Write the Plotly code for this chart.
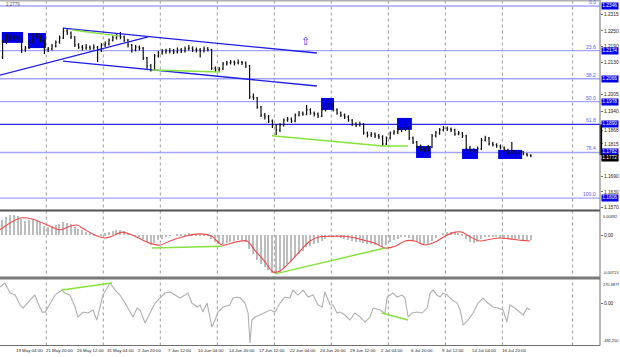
import plotly.graph_objects as go

W, H = 620, 357

# ---------------- price data (8-hour bars, EURUSD-like) ----------------
open_first = 1.2150
close = [1.2207,1.2227,1.2223,1.2227,1.2219,1.2177,1.2184,1.2207,1.2230,1.2230,
         1.2215,1.2177,1.2181,1.2192,1.2207,1.2223,1.2250,1.2242,1.2227,1.2196,
         1.2188,1.2184,1.2188,1.2184,1.2188,1.2177,1.2196,1.2200,1.2215,1.2223,
         1.2230,1.2227,1.2215,1.2196,1.2177,1.2188,1.2184,1.2146,1.2115,1.2100,
         1.2154,1.2165,1.2169,1.2173,1.2173,1.2169,1.2177,1.2173,1.2181,1.2184,
         1.2177,1.2177,1.2173,1.2181,1.2177,1.2107,1.2100,1.2104,1.2123,1.2127,
         1.2130,1.2127,1.2130,1.2127,1.2115,1.1996,1.1992,1.1957,1.1926,1.1919,
         1.1903,1.1888,1.1869,1.1888,1.1907,1.1911,1.1903,1.1926,1.1934,1.1930,
         1.1946,1.1934,1.1930,1.1923,1.1946,1.1961,1.1969,1.1946,1.1934,1.1926,
         1.1919,1.1907,1.1892,1.1888,1.1892,1.1857,1.1849,1.1853,1.1846,1.1842,
         1.1815,1.1838,1.1857,1.1861,1.1869,1.1872,1.1876,1.1838,1.1822,1.1807,
         1.1796,1.1792,1.1803,1.1846,1.1857,1.1869,1.1876,1.1872,1.1869,1.1853,
         1.1857,1.1846,1.1800,1.1792,1.1788,1.1796,1.1830,1.1838,1.1815,1.1811,
         1.1807,1.1800,1.1792,1.1780,1.1788,1.1780,1.1784,1.1776,1.1772,1.1769]
high = [1.2215,1.2238,1.2236,1.2234,1.2232,1.2223,1.2192,1.2215,1.2240,1.2242,
        1.2236,1.2219,1.2188,1.2200,1.2213,1.2232,1.2262,1.2257,1.2248,1.2230,
        1.2203,1.2196,1.2200,1.2194,1.2199,1.2192,1.2203,1.2209,1.2221,1.2232,
        1.2240,1.2246,1.2232,1.2219,1.2200,1.2196,1.2194,1.2188,1.2150,1.2123,
        1.2161,1.2173,1.2180,1.2181,1.2184,1.2180,1.2186,1.2184,1.2190,1.2196,
        1.2190,1.2186,1.2184,1.2190,1.2188,1.2181,1.2113,1.2111,1.2130,1.2134,
        1.2138,1.2136,1.2140,1.2134,1.2132,1.2119,1.2009,1.1996,1.1961,1.1934,
        1.1926,1.1909,1.1892,1.1896,1.1913,1.1919,1.1917,1.1932,1.1942,1.1940,
        1.1965,1.1952,1.1940,1.1936,1.1952,1.1969,1.1984,1.1973,1.1952,1.1940,
        1.1932,1.1925,1.1911,1.1898,1.1900,1.1896,1.1863,1.1861,1.1859,1.1853,
        1.1848,1.1844,1.1863,1.1869,1.1876,1.1880,1.1886,1.1882,1.1844,1.1826,
        1.1813,1.1803,1.1811,1.1853,1.1865,1.1876,1.1884,1.1882,1.1878,1.1873,
        1.1865,1.1861,1.1850,1.1807,1.1798,1.1805,1.1838,1.1846,1.1842,1.1822,
        1.1818,1.1813,1.1805,1.1796,1.1822,1.1792,1.1790,1.1788,1.1780,1.1775]
low = [1.2142,1.2200,1.2212,1.2215,1.2208,1.2165,1.2170,1.2180,1.2203,1.2222,
       1.2206,1.2161,1.2169,1.2175,1.2186,1.2201,1.2219,1.2234,1.2219,1.2188,
       1.2180,1.2175,1.2178,1.2177,1.2178,1.2130,1.2169,1.2188,1.2194,1.2209,
       1.2217,1.2218,1.2207,1.2186,1.2167,1.2171,1.2175,1.2138,1.2104,1.2094,
       1.2096,1.2148,1.2158,1.2162,1.2163,1.2161,1.2163,1.2165,1.2167,1.2175,
       1.2169,1.2167,1.2148,1.2167,1.2171,1.2100,1.2092,1.2094,1.2100,1.2117,
       1.2121,1.2117,1.2121,1.2119,1.2107,1.1988,1.1984,1.1950,1.1919,1.1909,
       1.1896,1.1876,1.1849,1.1861,1.1882,1.1900,1.1896,1.1898,1.1921,1.1923,
       1.1925,1.1927,1.1921,1.1915,1.1919,1.1940,1.1955,1.1940,1.1927,1.1919,
       1.1911,1.1900,1.1884,1.1880,1.1882,1.1850,1.1840,1.1842,1.1838,1.1834,
       1.1807,1.1811,1.1832,1.1850,1.1853,1.1861,1.1865,1.1830,1.1815,1.1800,
       1.1788,1.1784,1.1786,1.1799,1.1840,1.1850,1.1863,1.1865,1.1861,1.1846,
       1.1848,1.1838,1.1792,1.1784,1.1780,1.1782,1.1792,1.1824,1.1809,1.1805,
       1.1800,1.1794,1.1786,1.1774,1.1776,1.1773,1.1776,1.1771,1.1767,1.1764]
opens = [open_first] + close[:-1]
idx = list(range(len(close)))

# ---------------- MACD ----------------
macd_hist = [0.0025,0.0031,0.0034,0.0034,0.0033,0.0027,0.0024,0.0026,0.0027,0.0026,
             0.0022,0.0016,0.0014,0.0015,0.0017,0.0019,0.0022,0.0021,0.0019,0.0014,
             0.0011,0.0008,0.0006,0.0004,0.0002,0.0000,0.0001,0.0003,0.0005,0.0007,
             0.0009,0.0009,0.0007,0.0004,0.0000,-0.0001,-0.0002,-0.0006,-0.0012,-0.0017,
             -0.0013,-0.0009,-0.0006,-0.0003,-0.0001,0.0000,0.0001,0.0002,0.0002,0.0003,
             0.0002,0.0002,0.0001,0.0001,0.0001,-0.0006,-0.0012,-0.0015,-0.0015,-0.0013,
             -0.0011,-0.0010,-0.0009,-0.0009,-0.0011,-0.0024,-0.0033,-0.0042,-0.0050,-0.0055,
             -0.0060,-0.0064,-0.0066,-0.0062,-0.0056,-0.0050,-0.0045,-0.0038,-0.0032,-0.0027,
             -0.0021,-0.0018,-0.0016,-0.0014,-0.0010,-0.0006,-0.0003,-0.0003,-0.0004,-0.0005,
             -0.0006,-0.0008,-0.0010,-0.0011,-0.0011,-0.0014,-0.0016,-0.0016,-0.0017,-0.0017,
             -0.0020,-0.0017,-0.0012,-0.0009,-0.0006,-0.0003,-0.0002,-0.0005,-0.0008,-0.0011,
             -0.0014,-0.0016,-0.0015,-0.0010,-0.0005,0.0000,0.0004,0.0006,0.0006,0.0005,
             0.0004,0.0001,-0.0006,-0.0011,-0.0013,-0.0012,-0.0007,-0.0004,-0.0004,-0.0004,
             -0.0004,-0.0005,-0.0006,-0.0007,-0.0006,-0.0007,-0.0007,-0.0008,-0.0008,-0.0009]
signal_idx = [-0.7,4.6,8.0,12.5,15.1,17.7,19.6,21.7,24.3,26.9,28.8,31.4,34.8,38.8,41.4,44.1,
              48.0,51.9,55.1,57.7,61.2,64.3,66.4,69.1,71.2,73.0,75.6,78.3,80.9,83.5,87.0,
              90.1,94.1,98.0,100.6,103.3,105.9,108.5,111.2,113.8,116.4,119.1,120.9,123.0,
              125.6,128.3,130.9,134.1,136.7,138.8]
signal_val = [0.0009,0.0029,0.0027,0.0015,0.0009,0.0015,0.0017,0.0009,0.0000,-0.0005,
              -0.0002,0.0005,-0.0002,-0.0014,-0.0017,-0.0010,-0.0002,0.0002,-0.0002,-0.0017,
              -0.0012,-0.0010,-0.0026,-0.0046,-0.0063,-0.0061,-0.0046,-0.0027,-0.0010,-0.0003,
              -0.0002,-0.0002,-0.0007,-0.0014,-0.0022,-0.0019,-0.0010,-0.0010,-0.0017,-0.0012,
              -0.0002,0.0005,0.0005,-0.0003,-0.0010,-0.0007,-0.0005,-0.0007,-0.0009,-0.0010]
macd_top, macd_bottom = 0.00392, -0.00713

# ---------------- CCI ----------------
cci_idx = [-0.7,0.6,2.0,3.3,4.6,5.4,7.2,8.5,9.3,10.4,11.2,12.5,13.8,15.6,16.4,17.7,19.1,
           19.8,21.2,22.5,23.8,24.8,25.6,26.4,27.5,28.3,29.6,30.9,32.2,33.5,34.3,35.4,
           36.2,37.5,38.8,40.1,41.4,42.7,44.1,45.4,46.7,48.0,48.8,49.8,51.2,52.0,52.7,
           53.8,55.1,55.9,56.7,58.0,59.8,60.6,61.7,62.5,63.8,64.6,65.1,65.6,66.4,67.7,
           69.1,70.4,71.7,73.0,74.3,75.6,76.4,77.7,79.1,80.4,81.7,83.0,84.1,84.8,86.2,
           87.0,88.0,88.8,90.1,91.4,92.7,94.1,95.4,96.7,97.5,99.3,100.1,100.6,101.2,
           102.0,102.7,103.8,105.1,105.9,106.7,107.7,109.1,110.4,111.7,112.5,113.3,
           114.3,115.1,115.9,117.0,118.3,119.6,120.4,121.2,122.5,123.8,125.1,126.4,
           127.7,129.1,130.4,131.7,132.7,133.5,134.8,136.2,137.0,138.0,138.8]
cci_val = [188,235,117,94,-23,-59,35,94,0,-106,-106,0,94,152,117,94,-47,
           -164,-106,-117,-82,-199,-47,94,176,235,152,94,0,-106,-164,-59,
           -82,-235,-117,0,59,117,129,94,59,94,117,0,-47,-23,-106,
           0,-282,-199,-106,-47,-23,59,70,59,0,-117,-469,-199,-164,-141,
           -106,-82,-106,0,70,59,152,94,152,70,94,-23,-47,129,-23,
           -23,-117,-106,-141,-199,-117,-164,-223,-164,-59,-82,-106,-117,70,
           94,117,70,94,59,-164,-117,-106,-117,-59,117,152,
           94,70,117,94,35,0,-82,-258,-199,-117,0,59,
           0,-47,-59,-82,-223,-23,-59,-106,-141,-59,-82]
cci_top, cci_bottom = 270.3877, -492.25

# ---------------- drawn objects (bar index, value) ----------------
fib_levels = [0.0, 23.6, 38.2, 50.0, 61.8, 76.4, 100.0]
fib_prices = [1.2346, 1.2174, 1.2066, 1.1978, 1.1890, 1.1782, 1.1606]
last_price = 1.1772
channel_upper = ([15.9, 82.7], [1.2261, 1.2165])
channel_lower = ([15.9, 82.7], [1.2134, 1.2038])
rising_line = ([-0.7, 38.3], [1.2080, 1.2227])
green_price = [([18.3, 30.9], [1.2254, 1.2230]),
               ([39.3, 57.2], [1.2100, 1.2092]),
               ([70.9, 100.1, 106.7], [1.1846, 1.1807, 1.1807])]
green_macd = [([39.3, 57.7], [-0.0022, -0.0019]),
              ([71.7, 100.6], [-0.0066, -0.0022])]
green_cci = [([15.6, 28.8], [152, 235]),
             ([99.8, 106.7], [-117, -199])]
boxes = [(-0.2, 5.4, 1.2204, 1.2246), (6.7, 11.4, 1.2184, 1.2242),
         (83.8, 87.2, 1.1946, 1.1992), (103.8, 107.7, 1.1869, 1.1915),
         (108.8, 112.7, 1.1761, 1.1807), (120.9, 125.1, 1.1757, 1.1796),
         (130.4, 136.7, 1.1757, 1.1792)]
arrow_pos = (79.6, 1.2211)

price_ticks = [1.2315, 1.2250, 1.2190, 1.2130, 1.2005, 1.1940, 1.1868,
               1.1815, 1.1755, 1.1690, 1.1630, 1.1570]
time_labels = ["19 May 04:00", "21 May 20:00", "26 May 12:00", "31 May 04:00",
               "2 Jun 20:00", "7 Jun 12:00", "10 Jun 04:00", "14 Jun 20:00",
               "17 Jun 12:00", "22 Jun 04:00", "24 Jun 20:00", "29 Jun 12:00",
               "2 Jul 04:00", "6 Jul 20:00", "9 Jul 12:00", "14 Jul 04:00",
               "16 Jul 20:00"]
time_label_idx = [3 + 8 * k for k in range(len(time_labels))]
week_grid_idx = [11.5, 26.5, 41.5, 56.5, 71.5, 86.5, 101.5, 116.5, 131.5, 150.0]

# ---------------- layout helpers ----------------
def py(pix):  # pixel row -> paper fraction
    return 1 - pix / H

FONT = "Liberation Sans"
BLUE = "#1e1ee6"
FIBC = "#a4a4ff"
GREEN = "#86e33c"

fig = go.Figure()

fig.add_trace(go.Ohlc(
    x=idx, open=opens, high=high, low=low, close=close,
    increasing=dict(line=dict(color="#111111", width=1.2)),
    decreasing=dict(line=dict(color="#111111", width=1.2)),
    tickwidth=0.25, xaxis="x", yaxis="y", hoverinfo="skip"))

for xs, ys in [channel_upper, channel_lower, rising_line]:
    fig.add_trace(go.Scatter(x=xs, y=ys, mode="lines", line=dict(color=BLUE, width=1.3),
                             xaxis="x", yaxis="y", hoverinfo="skip"))
for xs, ys in green_price:
    fig.add_trace(go.Scatter(x=xs, y=ys, mode="lines", line=dict(color=GREEN, width=1.5),
                             xaxis="x", yaxis="y", hoverinfo="skip"))

fig.add_trace(go.Bar(x=idx, y=macd_hist, width=0.4, marker=dict(color="#bdbdbd", line=dict(width=0)),
                     xaxis="x2", yaxis="y2", hoverinfo="skip"))
fig.add_trace(go.Scatter(x=signal_idx, y=signal_val, mode="lines",
                         line=dict(color="#f04848", width=1.1, shape="spline", smoothing=0.8),
                         xaxis="x2", yaxis="y2", hoverinfo="skip"))
for xs, ys in green_macd:
    fig.add_trace(go.Scatter(x=xs, y=ys, mode="lines", line=dict(color=GREEN, width=1.5),
                             xaxis="x2", yaxis="y2", hoverinfo="skip"))

fig.add_trace(go.Scatter(x=cci_idx, y=cci_val, mode="lines", line=dict(color="#b0b0b0", width=1.1),
                         xaxis="x3", yaxis="y3", hoverinfo="skip"))
for xs, ys in green_cci:
    fig.add_trace(go.Scatter(x=xs, y=ys, mode="lines", line=dict(color=GREEN, width=1.5),
                             xaxis="x3", yaxis="y3", hoverinfo="skip"))

shapes = []
annotations = []

for g in week_grid_idx:
    shapes.append(dict(type="line", xref="x", yref="paper", x0=g, x1=g, y0=py(345.5), y1=1,
                       line=dict(color="#9a9a9a", width=1, dash="dot"), layer="below"))
for x0, x1, y0, y1 in boxes:
    shapes.append(dict(type="rect", xref="x", yref="y", x0=x0, x1=x1, y0=y0, y1=y1,
                       fillcolor="#0000e8", line=dict(width=0), layer="below"))
for lvl, p in zip(fib_levels, fib_prices):
    col = "#2a2ae0" if lvl == 61.8 else FIBC
    shapes.append(dict(type="line", xref="paper", yref="y", x0=0, x1=1, y0=p, y1=p,
                       line=dict(color=col, width=1.3), layer="below"))
    annotations.append(dict(xref="paper", yref="y", x=0.997, y=p, text=f"{lvl:.1f}",
                            showarrow=False, xanchor="right", yanchor="bottom", yshift=-1,
                            font=dict(family=FONT, size=5, color="#5a5aff")))
    annotations.append(dict(xref="paper", yref="y", x=1.0, y=p, text=f"{p:.4f}",
                            showarrow=False, xanchor="left", yanchor="middle", xshift=1,
                            bgcolor="#0000e6", borderpad=0.3,
                            font=dict(family=FONT, size=4.8, color="white")))
annotations.append(dict(xref="paper", yref="y", x=1.0, y=last_price, text=f"{last_price:.4f}",
                        showarrow=False, xanchor="left", yanchor="top", xshift=1, yshift=1,
                        bgcolor="black", borderpad=0.3,
                        font=dict(family=FONT, size=4.8, color="white")))
shapes.append(dict(type="line", xref="paper", yref="y", x0=1.0015, x1=1.0015,
                   y0=fib_prices[4], y1=last_price, line=dict(color="black", width=2.5)))
shapes.append(dict(type="line", xref="paper", yref="paper", x0=0, x1=1.0, y0=py(210.5), y1=py(210.5),
                   line=dict(color="#555555", width=2)))
shapes.append(dict(type="line", xref="paper", yref="paper", x0=0, x1=1.0, y0=py(278), y1=py(278),
                   line=dict(color="#7a7a7a", width=3)))
shapes.append(dict(type="line", xref="paper", yref="paper", x0=0, x1=1.0, y0=py(345.5), y1=py(345.5),
                   line=dict(color="#707070", width=1)))
shapes.append(dict(type="line", xref="paper", yref="paper", x0=1.0, x1=1.0, y0=py(345.5), y1=1,
                   line=dict(color="#707070", width=1)))
shapes.append(dict(type="line", xref="paper", yref="paper", x0=0, x1=1.0, y0=py(0.8), y1=py(0.8),
                   line=dict(color="#b0b0b0", width=1.5)))

# indicator scale extremes (kept inside their panels like MT4 does)
small = dict(family=FONT, size=3.9, color="#222222")
for yr, val, txt, anc in [("y2", macd_top, "0.00392", "top"), ("y2", macd_bottom, "-0.00713", "bottom"),
                          ("y3", cci_top, "270.3877", "top"), ("y3", cci_bottom, "-492.250", "bottom")]:
    annotations.append(dict(xref="paper", yref=yr, x=1.0, y=val, text=txt, showarrow=False,
                            xanchor="left", yanchor=anc, xshift=1, font=small))

annotations.append(dict(xref="x", yref="y", x=arrow_pos[0], y=arrow_pos[1], text="⇧",
                        showarrow=False, font=dict(family="DejaVu Sans", size=11, color="#3030f0")))
annotations.append(dict(xref="paper", yref="paper", x=0.006, y=py(4.5), text="1.2779",
                        showarrow=False, xanchor="left", yanchor="middle",
                        font=dict(family=FONT, size=4.5, color="#555555")))
for t, i in zip(time_labels, time_label_idx):
    annotations.append(dict(xref="x", yref="paper", x=i, y=py(350.5), text=t, showarrow=False,
                            xanchor="left", yanchor="middle",
                            font=dict(family=FONT, size=4.4, color="#222222")))

xr = [-0.68, 157.2]
common_x = dict(range=xr, showticklabels=False, showgrid=False, zeroline=False,
                showline=False, fixedrange=True)
yfont = dict(family=FONT, size=4.8, color="#222222")
fig.update_layout(
    width=W, height=H, margin=dict(l=0, r=20, t=0, b=0, autoexpand=False),
    paper_bgcolor="white", plot_bgcolor="white", showlegend=False,
    bargap=0,
    xaxis=dict(common_x, domain=[0, 1], anchor="y", rangeslider=dict(visible=False)),
    xaxis2=dict(common_x, domain=[0, 1], anchor="y2", matches="x"),
    xaxis3=dict(common_x, domain=[0, 1], anchor="y3", matches="x"),
    yaxis=dict(domain=[py(210), 1], range=[1.15606, 1.23691], side="right", anchor="x",
               tickvals=price_ticks, ticktext=[f"{v:.4f}" for v in price_ticks],
               ticks="outside", ticklen=2, tickcolor="#707070", tickfont=yfont,
               showgrid=False, zeroline=False, automargin=False),
    yaxis2=dict(domain=[py(277), py(212)], range=[macd_bottom, macd_top], side="right", anchor="x2",
                tickvals=[0.0], ticktext=["0.00"],
                ticks="outside", ticklen=2, tickcolor="#707070", tickfont=yfont,
                showgrid=False, zeroline=False, automargin=False),
    yaxis3=dict(domain=[py(345), py(280)], range=[cci_bottom, cci_top], side="right", anchor="x3",
                tickvals=[0.0], ticktext=["0.00"],
                ticks="outside", ticklen=2, tickcolor="#707070", tickfont=yfont,
                showgrid=False, zeroline=False, automargin=False),
    shapes=shapes, annotations=annotations,
)

fig.write_html("out.html", config={"displayModeBar": False},
               post_script="document.body.style.margin='0';document.body.style.overflow='hidden';")
